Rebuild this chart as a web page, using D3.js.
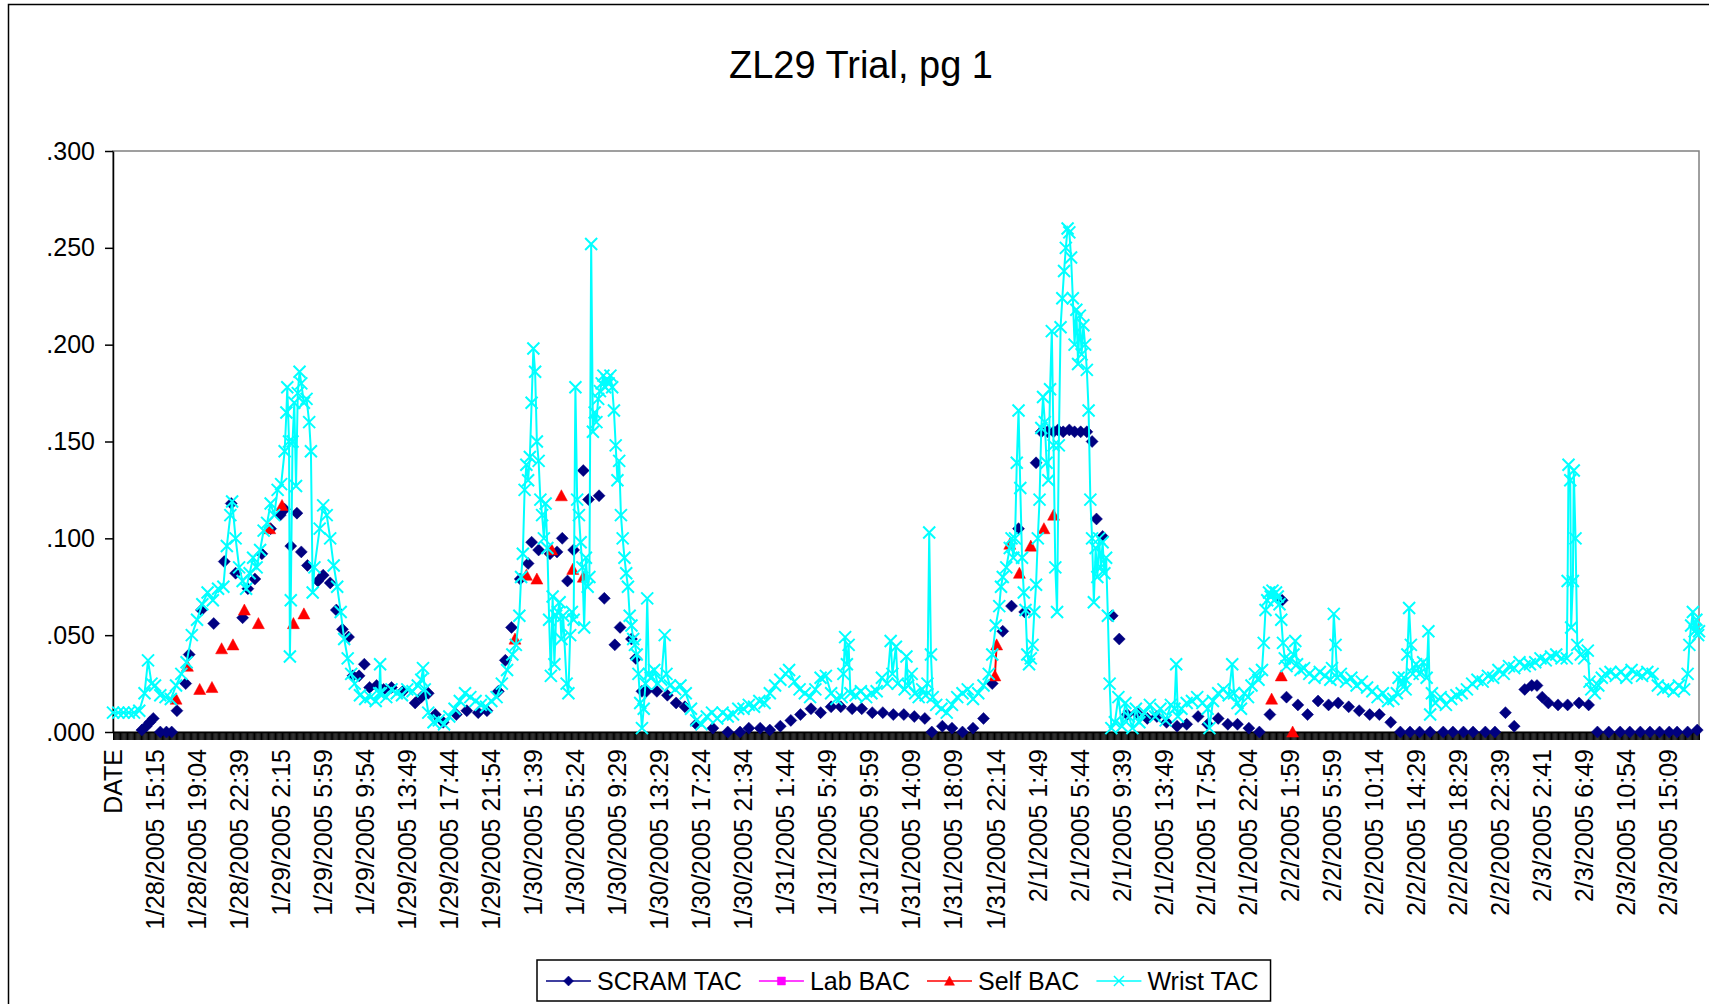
<!DOCTYPE html>
<html>
<head>
<meta charset="utf-8">
<script src="https://cdn.jsdelivr.net/npm/d3@7"></script>
<style>
  body { margin: 0; background: #fff; }
  svg { display: block; font-family: "Liberation Sans", Arial, sans-serif; }
</style>
</head>
<body>
<svg id="chart" width="1709" height="1004"></svg>
<script>
// Rows of the sheet form the category axis; every 48th row gets a printed label
const CATEGORY_COUNT = 1812;
const LABEL_EVERY = 48;
const TICK_EVERY = 1;

const categoryLabels = [
  'DATE', '1/28/2005 15:15', '1/28/2005 19:04', '1/28/2005 22:39', '1/29/2005 2:15',
  '1/29/2005 5:59', '1/29/2005 9:54', '1/29/2005 13:49', '1/29/2005 17:44', '1/29/2005 21:54',
  '1/30/2005 1:39', '1/30/2005 5:24', '1/30/2005 9:29', '1/30/2005 13:29', '1/30/2005 17:24',
  '1/30/2005 21:34', '1/31/2005 1:44', '1/31/2005 5:49', '1/31/2005 9:59', '1/31/2005 14:09',
  '1/31/2005 18:09', '1/31/2005 22:14', '2/1/2005 1:49', '2/1/2005 5:44', '2/1/2005 9:39',
  '2/1/2005 13:49', '2/1/2005 17:54', '2/1/2005 22:04', '2/2/2005 1:59', '2/2/2005 5:59',
  '2/2/2005 10:14', '2/2/2005 14:29', '2/2/2005 18:29', '2/2/2005 22:39', '2/3/2005 2:41',
  '2/3/2005 6:49', '2/3/2005 10:54', '2/3/2005 15:09'
];

const yTicks = [0, 0.05, 0.10, 0.15, 0.20, 0.25, 0.30];

// [row, value] pairs
const scramTAC = [
  [33,.001],[38,.003],[42,.005],[46,.007],[54,0],[61,0],[67,0],[73,.011],[83,.025],[87,.040],
  [101,.063],[115,.056],[127,.088],[135,.118],[140,.082],[148,.059],[154,.074],[162,.079],[170,.092],
  [180,.105],[191,.112],[196,.115],[203,.096],[210,.113],[215,.093],[222,.086],[234,.078],[240,.081],
  [248,.077],[255,.063],[262,.053],[269,.049],[274,.029],[281,.029],[287,.035],[293,.023],[301,.024],
  [309,.022],[318,.023],[331,.021],[345,.015],[352,.018],[360,.020],[368,.009],[377,.005],[392,.009],
  [404,.011],[417,.010],[427,.011],[440,.021],[448,.037],[455,.054],[465,.079],[474,.087],[478,.098],
  [486,.094],[499,.092],[507,.093],[513,.100],[519,.078],[526,.094],[537,.135],[543,.120],[555,.122],
  [561,.069],[573,.045],[579,.054],[592,.048],[597,.038],[604,.021],[609,.021],[621,.021],[633,.019],
  [643,.015],[653,.013],[666,.004],[685,.002],[702,0],[716,0],[726,.002],[739,.002],[750,.001],
  [762,.003],[774,.006],[785,.009],[797,.012],[808,.010],[820,.013],[831,.013],[844,.012],[855,.012],
  [867,.010],[879,.010],[891,.009],[903,.009],[915,.008],[927,.007],[935,0],[947,.003],[958,.002],
  [970,0],[982,.002],[994,.007],[1004,.025],[1016,.052],[1026,.065],[1034,.105],[1041,.062],
  [1054,.139],[1060,.155],[1067,.155],[1074,.155],[1079,.156],[1085,.155],[1092,.156],[1098,.155],
  [1105,.155],[1112,.155],[1118,.150],[1123,.110],[1130,.101],[1141,.060],[1149,.048],[1158,.009],
  [1169,.010],[1181,.007],[1192,.008],[1203,.005],[1215,.003],[1226,.004],[1239,.008],[1250,.004],
  [1262,.007],[1273,.004],[1284,.004],[1297,.002],[1309,0],[1321,.009],[1335,.068],[1340,.018],
  [1353,.014],[1364,.009],[1376,.016],[1388,.014],[1399,.015],[1411,.013],[1423,.011],[1435,.009],
  [1446,.009],[1459,.005],[1470,0],[1481,0],[1492,0],[1504,0],[1519,0],[1530,0],[1542,0],[1553,0],
  [1567,0],[1578,0],[1590,.010],[1600,.003],[1612,.022],[1620,.024],[1626,.024],[1632,.018],
  [1639,.015],[1650,.014],[1661,.014],[1674,.015],[1685,.014],[1695,0],[1708,0],[1721,0],[1732,0],
  [1744,0],[1755,0],[1766,0],[1777,0],[1786,0],[1798,0],[1809,.001]
];

const labBAC = [];

const selfBAC = [
  [72,.017],[85,.034],[99,.022],[113,.023],[124,.043],[137,.045],[150,.063],[166,.056],[179,.105],
  [193,.117],[206,.056],[218,.061],[459,.048],[472,.081],[484,.079],[501,.094],[512,.122],[525,.084],
  [537,.080],[1007,.029],[1009,.045],[1024,.097],[1035,.082],[1048,.096],[1063,.105],[1074,.112],
  [1323,.017],[1334,.029],[1347,0]
];

const wristTAC = [
  [0,.010],[6,.010],[12,.010],[18,.010],[24,.010],[30,.011],[36,.020],[40,.037],[44,.025],[48,.024],
  [54,.019],[60,.018],[66,.017],[72,.024],[78,.030],[84,.036],[90,.050],[96,.058],[102,.066],[108,.072],
  [114,.068],[120,.074],[126,.075],[130,.096],[134,.112],[136,.119],[140,.100],[144,.085],[148,.078],
  [152,.074],[156,.082],[160,.090],[164,.085],[168,.094],[172,.104],[176,.108],[180,.118],[184,.112],
  [188,.125],[192,.128],[196,.145],[198,.165],[199,.178],[201,.150],[202,.039],[203,.068],[205,.150],
  [207,.170],[209,.127],[211,.175],[213,.186],[215,.180],[218,.170],[221,.172],[224,.160],[226,.145],
  [228,.072],[230,.085],[236,.105],[240,.117],[244,.112],[248,.100],[252,.086],[256,.075],[260,.062],
  [264,.048],[268,.038],[272,.030],[276,.025],[282,.019],[288,.017],[294,.018],[300,.016],[304,.020],
  [305,.035],[306,.020],[312,.018],[318,.022],[324,.020],[330,.019],[336,.022],[342,.021],[348,.024],
  [352,.027],[354,.033],[356,.022],[360,.010],[366,.005],[372,.006],[378,.004],[384,.008],[390,.012],
  [396,.016],[402,.020],[408,.018],[414,.016],[420,.014],[426,.013],[432,.016],[438,.018],[444,.025],
  [450,.032],[456,.040],[460,.045],[464,.060],[466,.080],[468,.092],[470,.125],[472,.138],[474,.130],
  [476,.142],[478,.170],[480,.198],[482,.186],[484,.150],[486,.140],[488,.120],[490,.112],[492,.100],
  [494,.118],[496,.095],[498,.058],[500,.029],[502,.070],[504,.035],[506,.060],[508,.062],[510,.067],
  [512,.048],[514,.060],[518,.025],[520,.020],[522,.050],[524,.062],[526,.058],[528,.178],[530,.120],
  [532,.112],[534,.098],[536,.085],[538,.054],[540,.090],[542,.075],[544,.080],[546,.252],[548,.155],
  [550,.165],[552,.160],[554,.172],[556,.176],[558,.180],[560,.184],[562,.178],[564,.182],[566,.180],
  [568,.184],[570,.178],[572,.166],[574,.148],[576,.130],[578,.140],[580,.112],[582,.100],[584,.090],
  [586,.082],[588,.075],[590,.060],[592,.055],[594,.048],[596,.045],[598,.040],[600,.030],[602,.015],
  [604,.002],[606,.012],[608,.025],[610,.069],[612,.030],[614,.028],[618,.032],[622,.025],[626,.027],
  [630,.050],[632,.030],[636,.024],[642,.022],[648,.024],[654,.020],[660,.012],[666,.006],[672,.004],
  [678,.008],[684,.010],[690,.007],[696,.010],[702,.008],[708,.009],[714,.012],[720,.012],[726,.014],
  [732,.013],[738,.016],[744,.015],[750,.020],[756,.024],[762,.027],[768,.030],[772,.032],[778,.026],
  [784,.022],[790,.020],[796,.018],[802,.022],[808,.028],[814,.029],[820,.020],[826,.017],[832,.018],
  [834,.030],[836,.049],[838,.035],[840,.045],[842,.020],[848,.019],[854,.021],[860,.018],[866,.020],
  [872,.021],[878,.028],[884,.025],[888,.047],[890,.030],[894,.044],[896,.025],[904,.022],[906,.039],
  [908,.024],[912,.030],[916,.020],[920,.018],[924,.022],[928,.019],[930,.025],[932,.103],[934,.040],
  [936,.018],[940,.014],[946,.012],[952,.010],[958,.014],[964,.018],[970,.020],[976,.022],[982,.017],
  [988,.020],[994,.024],[1000,.030],[1004,.040],[1008,.055],[1012,.065],[1014,.075],[1016,.080],
  [1020,.085],[1024,.095],[1026,.100],[1028,.090],[1030,.100],[1032,.139],[1034,.166],[1036,.126],
  [1038,.090],[1040,.072],[1042,.063],[1044,.040],[1046,.035],[1048,.038],[1050,.045],[1052,.062],
  [1054,.076],[1056,.100],[1058,.120],[1060,.157],[1062,.173],[1064,.160],[1066,.139],[1068,.130],
  [1070,.177],[1072,.207],[1074,.148],[1076,.085],[1078,.062],[1080,.148],[1082,.209],[1084,.224],
  [1086,.238],[1088,.250],[1090,.260],[1092,.258],[1094,.245],[1096,.224],[1098,.200],[1100,.218],
  [1102,.190],[1104,.215],[1106,.195],[1108,.210],[1110,.200],[1112,.187],[1114,.166],[1116,.120],
  [1118,.100],[1120,.067],[1122,.095],[1124,.080],[1126,.100],[1128,.085],[1130,.098],[1132,.082],
  [1134,.090],[1136,.060],[1138,.025],[1140,.002],[1144,.005],[1148,.018],[1152,.003],[1156,.015],
  [1160,.008],[1164,.002],[1168,.012],[1172,.005],[1178,.010],[1184,.014],[1190,.008],[1196,.012],
  [1202,.006],[1208,.014],[1212,.012],[1214,.035],[1216,.008],[1220,.012],[1226,.015],[1232,.016],
  [1238,.018],[1244,.015],[1250,.012],[1252,.002],[1256,.016],[1262,.020],[1268,.022],[1274,.019],
  [1278,.035],[1280,.020],[1284,.015],[1288,.012],[1292,.020],[1296,.018],[1300,.024],[1304,.030],
  [1308,.027],[1312,.032],[1314,.046],[1316,.063],[1318,.068],[1320,.072],[1322,.070],[1324,.073],
  [1326,.068],[1328,.072],[1330,.070],[1332,.066],[1334,.058],[1336,.046],[1338,.038],[1340,.034],
  [1344,.037],[1348,.040],[1350,.047],[1352,.035],[1356,.032],[1360,.033],[1366,.030],[1372,.028],
  [1378,.031],[1384,.029],[1390,.027],[1392,.033],[1394,.061],[1396,.045],[1398,.028],[1402,.030],
  [1408,.026],[1414,.028],[1420,.024],[1426,.026],[1432,.023],[1438,.021],[1444,.018],[1450,.020],
  [1456,.016],[1462,.017],[1466,.020],[1468,.028],[1472,.025],[1474,.028],[1476,.022],[1478,.040],
  [1480,.064],[1482,.045],[1484,.030],[1488,.035],[1492,.030],[1496,.036],[1500,.028],[1502,.052],
  [1504,.009],[1506,.020],[1510,.015],[1516,.018],[1522,.014],[1528,.017],[1534,.019],[1540,.020],
  [1546,.022],[1552,.025],[1558,.027],[1564,.026],[1570,.029],[1576,.028],[1582,.032],[1588,.030],
  [1594,.034],[1600,.033],[1606,.036],[1612,.034],[1618,.035],[1624,.036],[1630,.038],[1636,.037],
  [1642,.039],[1648,.040],[1654,.038],[1660,.038],[1661,.078],[1662,.138],[1664,.130],[1665,.054],
  [1667,.078],[1668,.135],[1670,.100],[1672,.045],[1676,.040],[1680,.038],[1684,.042],[1686,.026],
  [1688,.022],[1692,.020],[1696,.024],[1700,.028],[1704,.030],[1710,.031],[1716,.029],[1722,.031],
  [1728,.028],[1734,.032],[1740,.030],[1746,.029],[1752,.031],[1758,.030],[1764,.024],[1770,.022],
  [1776,.023],[1782,.021],[1788,.024],[1794,.022],[1798,.030],[1800,.045],[1802,.055],[1804,.062],
  [1806,.052],[1808,.058],[1810,.050],[1811,.052]
];

// ---------------------------------------------------------------------------

const svg = d3.select('#chart');
const plot = { left: 113, right: 1699, top: 151, bottom: 732 };

const x = d3.scaleLinear().domain([0, CATEGORY_COUNT - 1]).range([plot.left, plot.right]);
const y = d3.scaleLinear().domain([0, 0.3]).range([plot.bottom, plot.top]);

/**
 * Marker shapes, the size argument is the half-width in px
 */
const markers = {
  diamond: { draw(c, s) { c.moveTo(0, -s); c.lineTo(s, 0); c.lineTo(0, s); c.lineTo(-s, 0); c.closePath(); } },
  square: { draw(c, s) { c.rect(-s, -s, 2 * s, 2 * s); } },
  triangle: { draw(c, s) { c.moveTo(0, -s); c.lineTo(s, s * 0.85); c.lineTo(-s, s * 0.85); c.closePath(); } },
  cross: { draw(c, s) { c.moveTo(-s, -s); c.lineTo(s, s); c.moveTo(s, -s); c.lineTo(-s, s); } }
};

const series = [
  { name: 'SCRAM TAC', data: scramTAC, color: '#000080', marker: 'diamond', size: 6, filled: true, maxGap: 3 },
  { name: 'Lab BAC', data: labBAC, color: '#FF00FF', marker: 'square', size: 4, filled: true, maxGap: 3 },
  { name: 'Self BAC', data: selfBAC, color: '#FF0000', marker: 'triangle', size: 6, filled: true, maxGap: 3 },
  { name: 'Wrist TAC', data: wristTAC, color: '#00FFFF', marker: 'cross', size: 6, filled: false, maxGap: Infinity }
];

// outer chart frame
svg.append('rect')
  .attr('x', 8.5).attr('y', 4.5)
  .attr('width', 1740).attr('height', 1040)
  .attr('fill', 'none')
  .attr('stroke', '#000')
  .attr('stroke-width', 1.5);

// title
svg.append('text')
  .attr('x', 861).attr('y', 78)
  .attr('text-anchor', 'middle')
  .style('font-size', '38px')
  .text('ZL29 Trial, pg 1');

// plot area border (top and right show as gray)
svg.append('rect')
  .attr('x', plot.left).attr('y', y(0.3))
  .attr('width', plot.right - plot.left)
  .attr('height', y(0) - y(0.3))
  .attr('fill', 'none')
  .attr('stroke', '#808080')
  .attr('stroke-width', 1.5);

// y axis
const yAxis = svg.append('g')
  .attr('transform', `translate(${plot.left},0)`)
  .call(d3.axisLeft(y)
    .tickValues(yTicks)
    .tickSize(8)
    .tickSizeOuter(0)
    .tickPadding(10)
    .tickFormat(d => d3.format('.3f')(d).slice(1)));
yAxis.select('.domain').attr('stroke', '#000').attr('stroke-width', 1.5);
yAxis.selectAll('.tick line').attr('stroke', '#000').attr('stroke-width', 1.5);
yAxis.selectAll('.tick text')
  .style('font-size', '25px')
  .style('font-family', '"Liberation Sans", Arial, sans-serif')
  .attr('fill', '#000');

// x axis: one tick mark per row makes the dense black band
const xAxis = svg.append('g')
  .attr('transform', `translate(0,${y(0)})`)
  .call(d3.axisBottom(x)
    .tickValues(d3.range(0, CATEGORY_COUNT, TICK_EVERY))
    .tickSize(8)
    .tickSizeOuter(0)
    .tickFormat(''));
xAxis.select('.domain').attr('stroke', '#000').attr('stroke-width', 1.5);
xAxis.selectAll('.tick line').attr('stroke', '#000').attr('stroke-width', 1);

// rotated category labels
svg.append('g')
  .selectAll('text')
  .data(categoryLabels)
  .join('text')
  .attr('transform', (d, i) => `translate(${x(i * LABEL_EVERY)},749) rotate(-90)`)
  .attr('text-anchor', 'end')
  .attr('dy', '0.35em')
  .style('font-size', '25px')
  .text(d => d);

/**
 * Split a series into runs of rows close enough to be joined by a line
 */
function runsOf(data, maxGap) {
  const runs = [];
  let run = [];
  data.forEach((d, i) => {
    if (i > 0 && d[0] - data[i - 1][0] > maxGap) {
      runs.push(run);
      run = [];
    }
    run.push(d);
  });
  if (run.length) runs.push(run);
  return runs.filter(r => r.length > 1);
}

const line = d3.line().x(d => x(d[0])).y(d => y(d[1]));

series.forEach(s => {
  const g = svg.append('g').attr('class', 'series');

  g.selectAll('path.line')
    .data(runsOf(s.data, s.maxGap))
    .join('path')
    .attr('class', 'line')
    .attr('d', line)
    .attr('fill', 'none')
    .attr('stroke', s.color)
    .attr('stroke-width', 2);

  const symbol = d3.symbol().type(markers[s.marker]).size(s.size);
  g.selectAll('path.marker')
    .data(s.data)
    .join('path')
    .attr('class', 'marker')
    .attr('transform', d => `translate(${x(d[0])},${y(d[1])})`)
    .attr('d', symbol)
    .attr('fill', s.filled ? s.color : 'none')
    .attr('stroke', s.color)
    .attr('stroke-width', s.filled ? 0.5 : 2);
});

// legend
const legend = svg.append('g').attr('class', 'legend');
const legendBox = legend.append('rect')
  .attr('x', 537).attr('y', 960)
  .attr('height', 41)
  .attr('fill', '#fff')
  .attr('stroke', '#000')
  .attr('stroke-width', 1.5);

let cursor = 546;
series.forEach(s => {
  const item = legend.append('g').attr('transform', `translate(${cursor},981)`);
  item.append('line')
    .attr('x1', 0).attr('x2', 45)
    .attr('stroke', s.color)
    .attr('stroke-width', 1.5);
  item.append('path')
    .attr('transform', 'translate(22.5,0)')
    .attr('d', d3.symbol().type(markers[s.marker]).size(Math.min(s.size, 5)))
    .attr('fill', s.filled ? s.color : 'none')
    .attr('stroke', s.color)
    .attr('stroke-width', s.filled ? 0.5 : 1.5);
  const label = item.append('text')
    .attr('x', 51)
    .attr('dy', '0.35em')
    .style('font-size', '25px')
    .text(s.name);
  cursor += 51 + label.node().getComputedTextLength() + 17;
});
legendBox.attr('width', cursor - 17 + 12 - 537);
</script>
</body>
</html>
